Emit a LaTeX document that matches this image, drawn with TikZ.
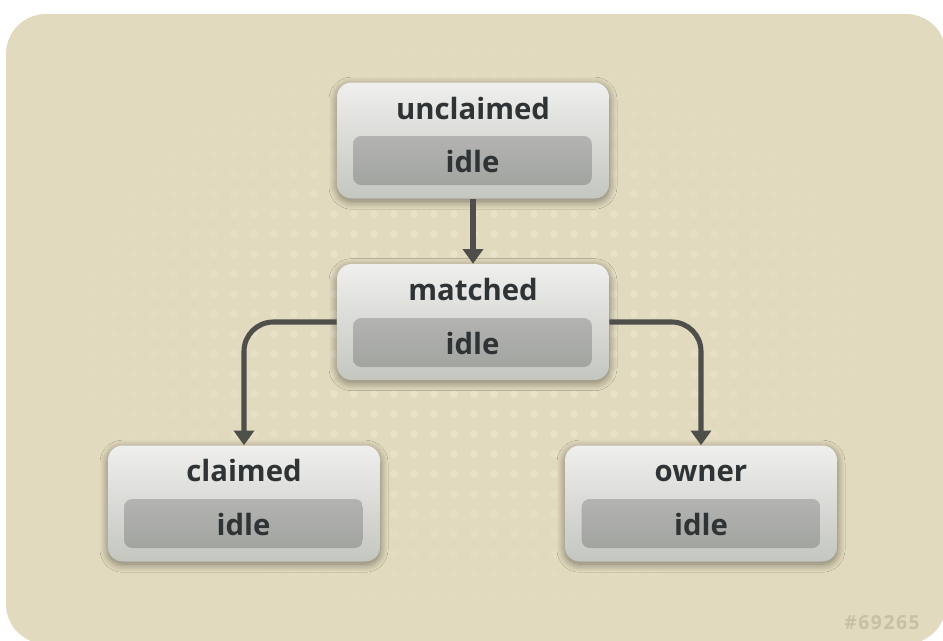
\documentclass[tikz,border=0pt]{standalone}
\usepackage{fontspec}
\setmainfont{Open Sans}
\newfontfamily\stampfont[LetterSpace=8]{Open Sans}
\usetikzlibrary{shadows.blur,arrows.meta}

\definecolor{paper}{HTML}{E2DABE}
\definecolor{paperdot}{HTML}{EBE5CD}
\definecolor{boxtop}{HTML}{EFEFED}
\definecolor{boxbot}{HTML}{C4C6C0}
\definecolor{inntop}{HTML}{B3B4B1}
\definecolor{innbot}{HTML}{A2A4A0}
\definecolor{ink}{HTML}{2E3436}
\definecolor{wire}{HTML}{4E4F4B}
\definecolor{stamp}{HTML}{C7C0A4}

\tikzset{
  statebox/.style={rectangle, rounded corners=11pt, minimum width=204pt,
    minimum height=87pt, top color=boxtop, bottom color=boxbot, draw=none,
    blur shadow={shadow xshift=0pt, shadow yshift=-2pt, shadow blur steps=16,
      shadow blur radius=6pt, shadow opacity=45, shadow blur extra rounding=2pt}},
  idlebox/.style={rectangle, rounded corners=6pt, minimum width=179pt,
    minimum height=36.75pt, top color=inntop, bottom color=innbot, draw=none,
    inner sep=0pt},
  title/.style={text=ink, font=\bfseries\fontsize{22}{25}\selectfont,
    inner sep=0pt, anchor=base},
  conn/.style={draw=wire, line width=3.8pt,
    -{Triangle[width=15pt,length=11pt]}},
}

\begin{document}
\begin{tikzpicture}[x=0.75pt,y=-0.75pt]
  \useasboundingbox (0,0) rectangle (943,640);

  % backdrop panel
  \fill[paper, rounded corners=30pt] (6,14) rectangle (946,644);

  % faint dot texture, strongest near the middle
  \foreach \gx in {0,...,41} {
    \foreach \gy in {0,...,29} {
      \pgfmathsetmacro{\px}{54+20*\gx}
      \pgfmathsetmacro{\py}{34+20*\gy}
      \pgfmathsetmacro{\dd}{sqrt(((\px-472)/430)^2+((\py-330)/310)^2)}
      \pgfmathsetmacro{\op}{max(0,min(1,1.1*(1-\dd)))}
      \fill[paperdot, opacity=\op] (\px,\py) circle (3pt);
    }
  }

  % state boxes
  \node[statebox] (unclaimed) at (473,140.5) {};
  \node[idlebox]  (unclaimedidle) at (472.5,160.5) {};
  \node[title]    (unclaimedname) at (473,119) {unclaimed};
  \node[title]    (unclaimedstate) at (472.5,172) {idle};

  \node[statebox] (matched) at (473,322) {};
  \node[idlebox]  (matchedidle) at (472.5,342.5) {};
  \node[title]    (matchedname) at (473,300) {matched};
  \node[title]    (matchedstate) at (472.5,354) {idle};

  \node[statebox] (claimed) at (244,503.5) {};
  \node[idlebox]  (claimedidle) at (243.5,523.5) {};
  \node[title]    (claimedname) at (244,481) {claimed};
  \node[title]    (claimedstate) at (243.5,535) {idle};

  \node[statebox] (owner) at (701,503.5) {};
  \node[idlebox]  (owneridle) at (701,523.5) {};
  \node[title]    (ownername) at (701,481) {owner};
  \node[title]    (ownerstate) at (701,535) {idle};

  % transitions
  \draw[conn] (unclaimed.south) -- (matched.north);
  \draw[conn, rounded corners=22pt] (matched.west) -| (claimed.north);
  \draw[conn, rounded corners=22pt] (matched.east) -| (owner.north);

  % figure number
  \node[text=stamp, font=\stampfont\bfseries\fontsize{14.5}{17}\selectfont,
    anchor=base east, inner sep=0pt] (fignum) at (920,629) {\#69265};
\end{tikzpicture}
\end{document}
